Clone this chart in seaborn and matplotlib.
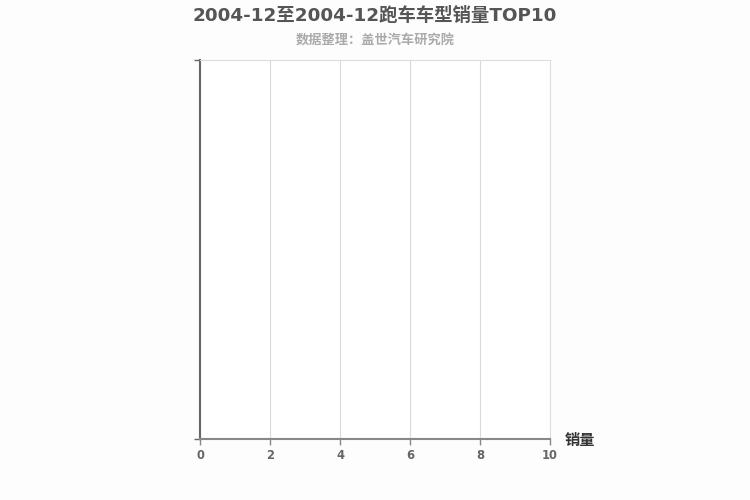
import matplotlib
matplotlib.use("Agg")
import matplotlib.pyplot as plt
import seaborn as sns
import pandas as pd

# Data (the reference chart contains no records)
categories = []
sales = []
x_ticks = [0, 2, 4, 6, 8, 10]
title = "2004-12至2004-12跑车车型销量TOP10"
subtitle = "数据整理：盖世汽车研究院"
x_label = "销量"

sns.set_theme(style="white")
plt.rcParams['font.family'] = ['DejaVu Sans', 'Noto Sans CJK SC']

fig = plt.figure(figsize=(7.5, 5), dpi=100)
fig.patch.set_facecolor("#fdfdfd")
ax = fig.add_axes([200/750, 61/500, 350/750, 379/500])
ax.set_facecolor("#ffffff")

df = pd.DataFrame({"车型": categories, "销量": sales})
if len(df):
    sns.barplot(data=df, y="车型", x="销量", ax=ax, color="#5470c6", orient="h")

ax.set_xlim(x_ticks[0], x_ticks[-1])
ax.set_ylim(0, 1)
ax.set_xticks(x_ticks)
ax.set_xticklabels([str(t) for t in x_ticks], fontsize=8.3, fontweight="bold", color="#666666")
ax.set_yticks([0, 1])
ax.set_yticklabels(["", ""])
ax.grid(axis="x", color="#d9d9d9", linewidth=0.8)
ax.grid(axis="y", visible=False)
ax.set_axisbelow(True)

for s in ["top", "right"]:
    ax.spines[s].set_color("#dddddd")
    ax.spines[s].set_linewidth(0.8)
ax.spines["left"].set_color("#666666")
ax.spines["left"].set_linewidth(1.5)
ax.spines["bottom"].set_color("#888888")
ax.spines["bottom"].set_linewidth(1.5)
ax.tick_params(axis="x", bottom=True, direction="out", length=4, color="#888888", width=1, pad=3)
ax.tick_params(axis="y", left=True, direction="out", length=4, color="#666666", width=1)

ax.set_xlabel("")
ax.set_ylabel("")
fig.text(565/750, 1 - 440/500, x_label, fontsize=11, fontweight="bold", color="#333333",
         ha="left", va="center", family=['Noto Sans CJK SC', 'DejaVu Sans'])

fig.text(0.5, 1 - 16/500, title, fontsize=13.2, fontweight="bold", color="#555555",
         ha="center", va="center")
fig.text(0.5, 1 - 41/500, subtitle, fontsize=9.5, fontweight="bold", color="#aaaaaa",
         ha="center", va="center", family=['Noto Sans CJK SC', 'DejaVu Sans'])

fig.savefig("out.png", dpi=100, facecolor=fig.get_facecolor())
